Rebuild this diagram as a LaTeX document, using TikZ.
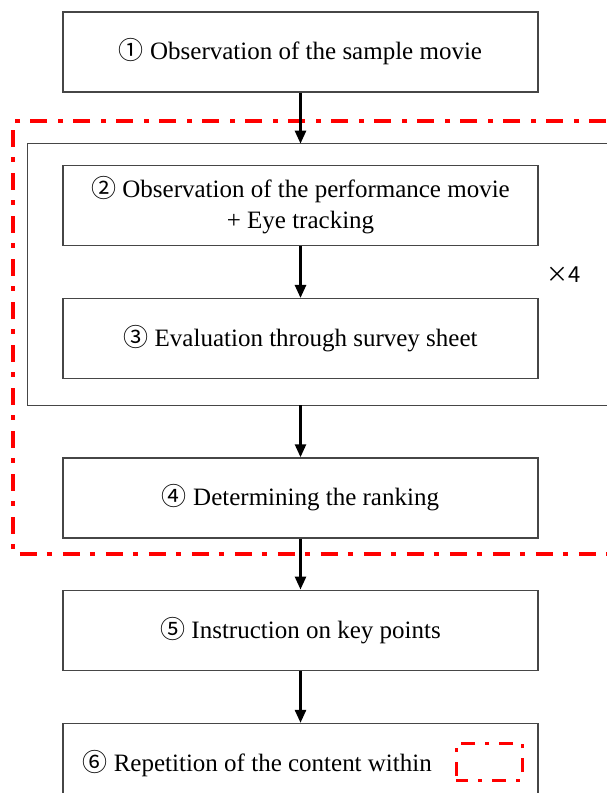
\documentclass[tikz,border=0pt]{standalone}
\usepackage{fontspec}
\setmainfont{Liberation Serif}
\newfontfamily\cjkfont{Noto Sans CJK JP}
\usetikzlibrary{positioning,arrows.meta}
\definecolor{boxgray}{RGB}{70,70,70}
\definecolor{loopred}{RGB}{255,0,0}

\begin{document}
\begin{tikzpicture}[x=1pt,y=1pt,
  stage/.style={draw=boxgray,line width=1.3pt,minimum width=475pt,minimum height=80pt,
    inner sep=0pt,align=center,font=\fontsize{25}{31}\selectfont},
  flow/.style={-{Triangle[width=11pt,length=13pt]},line width=2.6pt},
  loopline/.style={draw=loopred,line width=4pt,dash pattern=on 17pt off 10pt on 5pt off 11pt},
  minirect/.style={draw=loopred,line width=3pt,minimum width=66pt,minimum height=37pt,
    dash pattern=on 14pt off 10pt on 4pt off 10pt,dash phase=2pt},
  repbox/.style={draw=boxgray,line width=1.2pt}]

  \useasboundingbox (0,0) rectangle (606,-793);

  \node[stage] (obs) at (300.5,-52) {{\cjkfont ①} Observation of the sample movie};

  \node[stage,below=72pt of obs] (perf) {{\cjkfont ②} Observation of the performance movie\\+ Eye tracking};

  \node[stage,below=52pt of perf] (eval) {{\cjkfont ③} Evaluation through survey sheet};

  \node[stage,below=78pt of eval] (rank) {{\cjkfont ④} Determining the ranking};

  \node[stage,below=51pt of rank] (instr) {{\cjkfont ⑤} Instruction on key points};

  \node[stage,below=52pt of instr] (again) {};
  \node[anchor=west,inner sep=0pt,font=\fontsize{25}{31}\selectfont] (againtext)
    at ([xshift=20pt]again.west) {{\cjkfont ⑥} Repetition of the content within};
  \node[minirect,anchor=east] (mini) at ([xshift=-15pt,yshift=2pt]again.east) {};

  % repeated block (x4)
  \coordinate (repNE) at ([yshift=21pt]perf.north -| 610,0);
  \coordinate (repNW) at ([yshift=21pt,xshift=-35pt]perf.north west);
  \coordinate (repSW) at ([yshift=-26pt,xshift=-35pt]eval.south west);
  \coordinate (repSE) at ([yshift=-26pt]eval.south -| 610,0);
  \draw[repbox] (repNE) -- (repNW) -- (repSW) -- (repSE);
  \node[font=\cjkfont\fontsize{22}{26}\selectfont] (times) at (564,-275) {×4};

  % dash-dot frame
  \coordinate (loopNE) at ([yshift=44pt]perf.north -| 606,0);
  \coordinate (loopNW) at ([yshift=44pt,xshift=-49pt]perf.north west);
  \coordinate (loopSW) at ([yshift=-15pt,xshift=-49pt]rank.south west);
  \coordinate (loopSE) at ([yshift=-15pt]rank.south -| 606,0);
  \draw[loopline] (loopNE) -- (loopNW) -- (loopSW) -- (loopSE);

  % arrows
  \draw[flow] (obs.south) -- (obs.south |- repNW);
  \draw[flow] (perf) -- (eval);
  \draw[flow] (eval.south |- repSW) -- (rank.north);
  \draw[flow] (rank) -- (instr);
  \draw[flow] (instr) -- (again);

\end{tikzpicture}
\end{document}
